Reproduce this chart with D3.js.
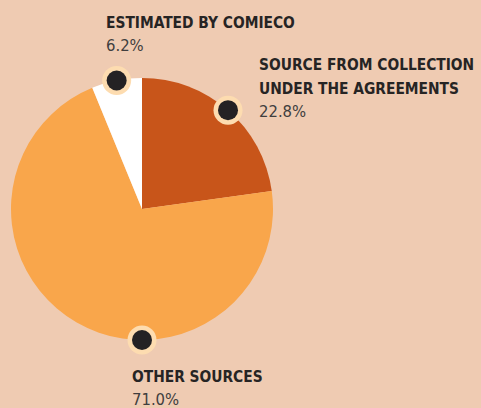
<!DOCTYPE html>
<html>
<head>
<meta charset="utf-8">
<script src="https://cdn.jsdelivr.net/npm/d3@7"></script>
<style>
  html, body { margin: 0; padding: 0; background: #efcbb2; }
  svg { display: block; }
  .name { font-family: "DejaVu Sans Condensed", "DejaVu Sans", sans-serif; font-weight: bold; font-size: 16px; fill: #262424; }
  .pct { font-family: "DejaVu Sans Condensed", "DejaVu Sans", sans-serif; font-size: 16.5px; fill: #403e3e; }
</style>
</head>
<body>
<svg id="chart" width="481" height="408"></svg>
<script>
// Slice data, in drawing order (clockwise from 12 o'clock)
const categories = ["SOURCE FROM COLLECTION\nUNDER THE AGREEMENTS", "OTHER SOURCES", "ESTIMATED BY COMIECO"];
const values = [22.8, 71.0, 6.2];
const valueLabels = ["22.8%", "71.0%", "6.2%"];
const colors = ["#c8551a", "#f9a64b", "#ffffff"];

const W = 481, H = 408;
const cx = 142, cy = 209, R = 131;

// Label layout per slice: marker angle (null = slice midpoint) and text anchor point
const layout = [
  { markerAngle: null, tx: 259, ty: 70 },
  { markerAngle: Math.PI, tx: 132, ty: 382 },
  { markerAngle: null, tx: 106, ty: 28 }
];

const svg = d3.select("#chart");
const g = svg.append("g").attr("transform", `translate(${cx},${cy})`);

const pie = d3.pie().sort(null).value(d => d)(values);
const arc = d3.arc().innerRadius(0).outerRadius(R);

g.selectAll("path.slice")
  .data(pie)
  .join("path")
  .attr("class", "slice")
  .attr("d", arc)
  .attr("fill", (d, i) => colors[i]);

// Markers on the pie rim
pie.forEach((d, i) => {
  const a = layout[i].markerAngle != null ? layout[i].markerAngle : (d.startAngle + d.endAngle) / 2;
  const x = Math.sin(a) * R, y = -Math.cos(a) * R;
  g.append("circle").attr("cx", x).attr("cy", y).attr("r", 14.5).attr("fill", "#fddcb0");
  g.append("circle").attr("cx", x).attr("cy", y).attr("r", 10).attr("fill", "#242224");
});

// Text labels (bold names drawn slightly narrowed to suit a condensed face)
categories.forEach((c, i) => {
  const lines = c.split("\n");
  const L = layout[i];
  const t = svg.append("g");
  lines.forEach((ln, k) => {
    t.append("text").attr("class", "name")
      .attr("transform", `translate(${L.tx},${L.ty + k * 24}) scale(0.96,1)`)
      .text(ln);
  });
  t.append("text").attr("class", "pct").attr("x", L.tx).attr("y", L.ty + lines.length * 24 - 1).text(valueLabels[i]);
});
</script>
</body>
</html>
